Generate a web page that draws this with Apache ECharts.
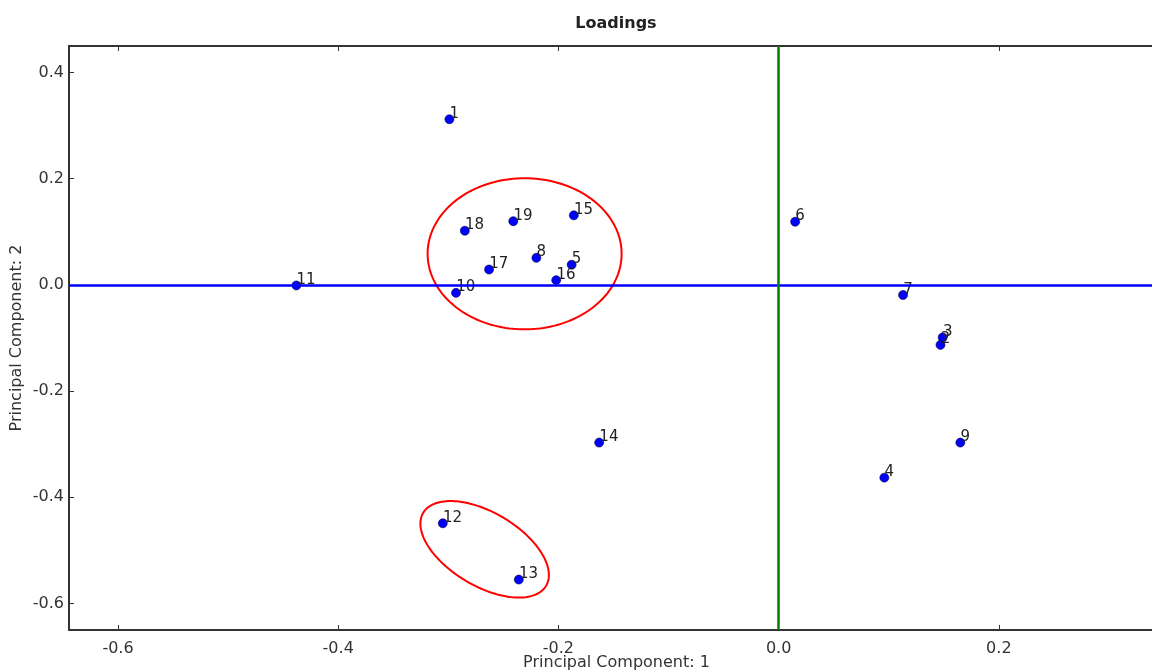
<!DOCTYPE html>
<html>
<head>
<meta charset="utf-8">
<script src="https://cdn.jsdelivr.net/npm/echarts@6/dist/echarts.min.js"></script>
<style>
  html, body { margin: 0; padding: 0; background: #ffffff; }
  #chart { width: 1152px; height: 670px; }
</style>
</head>
<body>
<div id="chart"></div>
<script>
// Variable ids and their loadings on the first two principal components
const variableIds = ['1', '2', '3', '4', '5', '6', '7', '8', '9', '10',
                     '11', '12', '13', '14', '15', '16', '17', '18', '19'];
const pc1 = [-0.299, 0.147, 0.149, 0.096, -0.188, 0.015, 0.113, -0.220, 0.165, -0.293,
             -0.438, -0.305, -0.236, -0.163, -0.186, -0.202, -0.263, -0.285, -0.241];
const pc2 = [0.312, -0.113, -0.099, -0.363, 0.038, 0.119, -0.019, 0.051, -0.297, -0.015,
             -0.001, -0.449, -0.555, -0.297, 0.131, 0.009, 0.029, 0.102, 0.120];

// Tick positions
const xTicks = [-0.6, -0.4, -0.2, 0.0, 0.2];
const yTicks = [-0.6, -0.4, -0.2, 0.0, 0.2, 0.4];

// Highlighted groups: centre (data units), radii (x-units, y-units), tilt in degrees
const groupCx = [-0.2307, -0.267];
const groupCy = [0.0586, -0.498];
const groupRx = [0.0881, 0.0649];
const groupRy = [0.1423, 0.0692];
const groupTilt = [0, 30.7];

const FONT = 'DejaVu Sans';
const AXIS_COLOR = '#333333';

const points = pc1.map((x, i) => [x, pc2[i], variableIds[i]]);
const groups = groupCx.map((cx, i) => [cx, groupCy[i], groupRx[i], groupRy[i], groupTilt[i]]);

const chart = echarts.init(document.getElementById('chart'), null, { renderer: 'canvas' });

const xRange = { min: -0.6445, max: 0.35 };
const yRange = { min: -0.65, max: 0.45 };

function tickFmt(v) { return Number(v).toFixed(1); }

const option = {
  animation: false,
  backgroundColor: '#ffffff',
  grid: { left: 69, top: 46, width: 1095, height: 584, containLabel: false, outerBoundsMode: 'none' },
  graphic: [{
    type: 'text',
    x: 616, y: 24,
    style: {
      text: 'Loadings',
      font: 'bold 16px "' + FONT + '"',
      fill: '#222222',
      textAlign: 'center',
      textVerticalAlign: 'middle'
    }
  }],
  xAxis: [{
    type: 'value',
    position: 'bottom',
    min: xRange.min, max: xRange.max,
    name: 'Principal Component: 1',
    nameLocation: 'middle',
    nameMoveOverlap: false,
    nameGap: 25,
    nameTextStyle: { fontFamily: FONT, fontSize: 16, color: '#333333' },
    axisLine: { show: true, onZero: false, lineStyle: { color: AXIS_COLOR, width: 2 } },
    axisTick: { show: true, inside: true, length: 5, customValues: xTicks, lineStyle: { color: AXIS_COLOR } },
    axisLabel: { show: true, customValues: xTicks, formatter: tickFmt, margin: 11,
                 fontFamily: FONT, fontSize: 16, color: '#333333' },
    splitLine: { show: false }
  }, {
    type: 'value',
    position: 'top',
    min: xRange.min, max: xRange.max,
    axisLine: { show: true, onZero: false, lineStyle: { color: AXIS_COLOR, width: 2 } },
    axisTick: { show: true, inside: true, length: 5, customValues: xTicks, lineStyle: { color: AXIS_COLOR } },
    axisLabel: { show: false },
    splitLine: { show: false }
  }],
  yAxis: [{
    type: 'value',
    position: 'left',
    min: yRange.min, max: yRange.max,
    name: 'Principal Component: 2',
    nameLocation: 'middle',
    nameMoveOverlap: false,
    nameGap: 44,
    nameTextStyle: { fontFamily: FONT, fontSize: 16, color: '#333333' },
    axisLine: { show: true, onZero: false, lineStyle: { color: AXIS_COLOR, width: 2 } },
    axisTick: { show: true, inside: true, length: 5, customValues: yTicks, lineStyle: { color: AXIS_COLOR } },
    axisLabel: { show: true, customValues: yTicks, formatter: tickFmt, margin: 5,
                 fontFamily: FONT, fontSize: 16, color: '#333333' },
    splitLine: { show: false }
  }],
  series: [
    {
      // zero reference lines
      type: 'line',
      data: [],
      z: 1,
      silent: true,
      markLine: {
        symbol: 'none',
        silent: true,
        animation: false,
        label: { show: false },
        emphasis: { disabled: true },
        data: [
          { yAxis: 0, lineStyle: { color: '#0000ff', width: 2.5, type: 'solid' } },
          { xAxis: 0, lineStyle: { color: '#007f00', width: 2.5, type: 'solid' } }
        ]
      }
    },
    {
      // loadings
      type: 'scatter',
      z: 3,
      data: points,
      symbol: 'circle',
      symbolSize: 9,
      itemStyle: { color: '#0000ff', borderColor: '#000044', borderWidth: 0.6, opacity: 1 },
      label: {
        show: true,
        formatter: p => p.value[2],
        position: [5, 7],
        align: 'left',
        verticalAlign: 'bottom',
        fontFamily: FONT,
        fontSize: 15,
        color: '#222222'
      },
      emphasis: { disabled: true }
    },
    {
      // highlighted groups
      type: 'custom',
      z: 4,
      silent: true,
      data: groups,
      encode: { x: 0, y: 1 },
      renderItem: function (params, api) {
        const c = api.coord([api.value(0), api.value(1)]);
        const s = api.size([api.value(2), api.value(3)]);
        const t = api.value(4) * Math.PI / 180;
        const cos = Math.cos(t), sin = Math.sin(t);
        const pts = [];
        const n = 160;
        for (let k = 0; k < n; k++) {
          const a = 2 * Math.PI * k / n;
          const ex = s[0] * Math.cos(a);
          const ey = s[1] * Math.sin(a);
          pts.push([c[0] + ex * cos - ey * sin, c[1] + ex * sin + ey * cos]);
        }
        return {
          type: 'polygon',
          shape: { points: pts },
          style: { fill: 'none', stroke: '#ff0000', lineWidth: 2 }
        };
      }
    }
  ]
};

chart.setOption(option);
</script>
</body>
</html>
